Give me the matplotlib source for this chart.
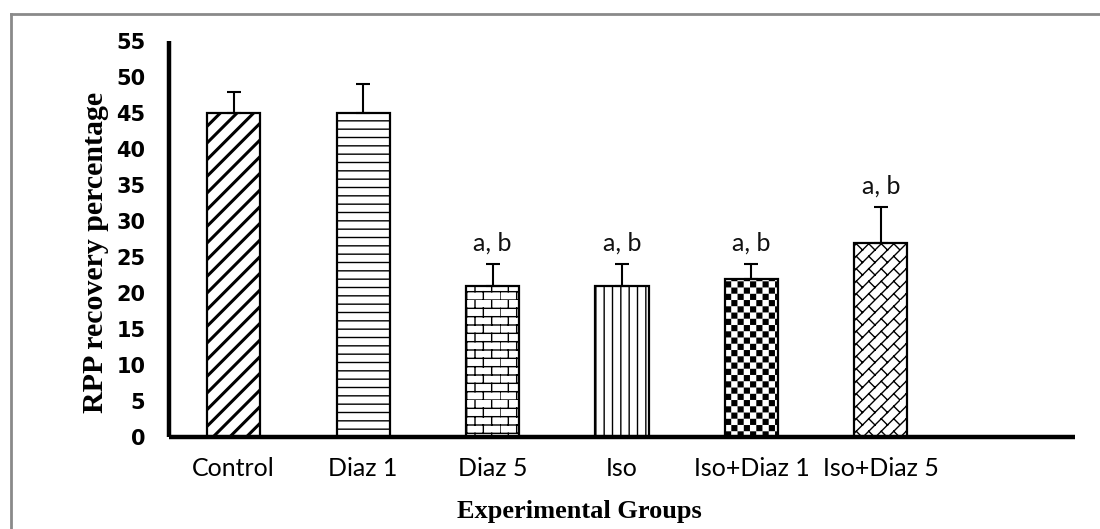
import warnings
import numpy as np
import matplotlib
matplotlib.use("Agg")
import matplotlib.pyplot as plt
import matplotlib.hatch as mhatch
from matplotlib.path import Path
from matplotlib.lines import Line2D

warnings.filterwarnings("ignore")

# data
groups = ["Control", "Diaz 1", "Diaz 5", "Iso", "Iso+Diaz 1", "Iso+Diaz 5"]
means = [45, 45, 21, 21, 22, 27]
sem = [3, 4, 3, 3, 2, 5]
marks = ["", "", "a, b", "a, b", "a, b", "a, b"]
yticks = [0, 5, 10, 15, 20, 25, 30, 35, 40, 45, 50, 55]
hatches = ["//", "--", "b", "||", "k", "w"]


# extra hatch patterns (brick, checker, weave) built from a repeated tile
class TileHatch(mhatch.HatchPatternBase):
    key = ""
    reps = 6
    shapes = []

    def __init__(self, hatch, density):
        on = bool(self.key) and hatch is not None and self.key in hatch
        per_tile = sum(len(p) + (1 if c else 0) for p, c in self.shapes)
        self.num_vertices = per_tile * self.reps ** 2 if on else 0

    def set_vertices_and_codes(self, vertices, codes):
        step = 1.0 / self.reps
        k = 0
        for i in range(self.reps):
            for j in range(self.reps):
                for pts, closed in self.shapes:
                    start = k
                    for m, (px, py) in enumerate(pts):
                        vertices[k] = ((i + px) * step, (j + py) * step)
                        codes[k] = Path.MOVETO if m == 0 else Path.LINETO
                        k += 1
                    if closed:
                        vertices[k] = vertices[start]
                        codes[k] = Path.CLOSEPOLY
                        k += 1


class BrickHatch(TileHatch):
    key = "b"
    reps = 6
    shapes = [([(0, 0), (1, 0)], False), ([(0, 0.5), (1, 0.5)], False),
              ([(0, 0), (0, 0.5)], False), ([(0.5, 0.5), (0.5, 1)], False)]


d = 0.06
class CheckerHatch(TileHatch):
    key = "k"
    reps = 8
    shapes = [([(d, d), (0.5 - d, d), (0.5 - d, 0.5 - d), (d, 0.5 - d)], True),
              ([(0.5 + d, 0.5 + d), (1 - d, 0.5 + d), (1 - d, 1 - d), (0.5 + d, 1 - d)], True)]


class WeaveHatch(TileHatch):
    key = "w"
    reps = 4
    shapes = [([(0, 0), (1, 1)], False), ([(0.5, 0), (1, 0.5)], False),
              ([(0, 0.5), (0.5, 1)], False),
              ([(0.25, 0.25), (0.5, 0)], False), ([(0.75, 0.75), (1, 0.5)], False),
              ([(0.75, 0.25), (1, 0)], False), ([(0.25, 0.75), (0.5, 0.5)], False)]


mhatch._hatch_types.extend([BrickHatch, CheckerHatch, WeaveHatch])
plt.rcParams["hatch.linewidth"] = 1.0
plt.rcParams["hatch.color"] = "black"

fig = plt.figure(figsize=(11, 5.29), dpi=100)
ax = fig.add_axes([0.1536, 0.1730, 0.8237, 0.7494])

x = np.arange(len(groups))
bars = ax.bar(x, means, width=0.41, color="white", edgecolor="black",
              linewidth=1.6, zorder=2)
for b, h in zip(bars, hatches):
    b.set_hatch(h)
    if h == "//" and hasattr(b, "set_hatch_linewidth"):
        b.set_hatch_linewidth(2.2)

ax.errorbar(x, means, yerr=[np.zeros(len(sem)), sem], fmt="none",
            ecolor="black", elinewidth=1.5, capsize=5, capthick=1.5, zorder=3)

for xi, m, s, t in zip(x, means, sem, marks):
    if t:
        ax.text(xi, m + s + 1.9, t, ha="center", va="baseline",
                fontsize=18, family="Lato", color="#111111")

ax.set_xlim(-0.5, 6.5)
ax.set_ylim(0, 55)
ax.set_yticks(yticks)
ax.set_yticklabels([str(v) for v in yticks], fontsize=15,
                   fontweight="bold", family="DejaVu Sans")
ax.set_xticks(x)
ax.set_xticklabels(groups, fontsize=18, family="Lato")
ax.tick_params(axis="y", length=0, pad=17)
ax.tick_params(axis="x", length=0, pad=14)

for side in ["top", "right"]:
    ax.spines[side].set_visible(False)
for side in ["left", "bottom"]:
    ax.spines[side].set_linewidth(3.2)
    ax.spines[side].set_capstyle("butt")

fig.text(0.0864, 0.5236, "RPP recovery percentage", rotation=90,
         ha="center", va="center", fontsize=21.5, fontweight="bold",
         family="Liberation Serif")
fig.text(0.527, 0.0208, "Experimental Groups", ha="center", va="baseline",
         fontsize=19, fontweight="bold", family="Liberation Serif")

# grey frame around the whole picture (cut at right and bottom)
fig.add_artist(Line2D([0.010, 1.0], [0.9735, 0.9735], transform=fig.transFigure,
                      color="#8a8a8a", linewidth=2))
fig.add_artist(Line2D([0.010, 0.010], [0.0, 0.9735], transform=fig.transFigure,
                      color="#8a8a8a", linewidth=2))

fig.savefig("out.png", dpi=100, facecolor="white")
